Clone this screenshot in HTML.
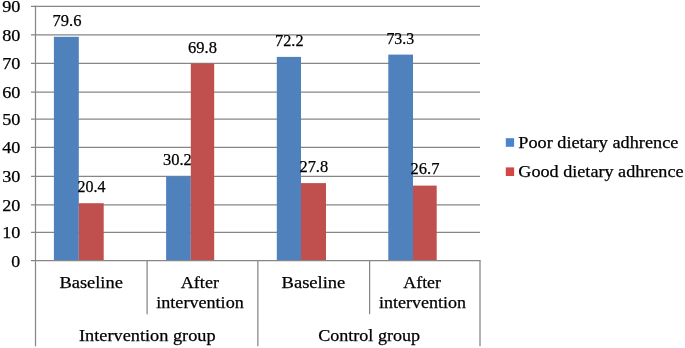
<!DOCTYPE html>
<html><head><meta charset="utf-8"><title>Chart</title>
<style>text{stroke:#000;stroke-width:0.25px}html,body{margin:0;padding:0;background:#fff;width:685px;height:348px;overflow:hidden;font-family:"Liberation Serif",serif}</style></head>
<body>
<svg width="685" height="348" viewBox="0 0 685 348" style="display:block;position:absolute;left:0;top:0;will-change:transform" font-family="'Liberation Serif', serif" fill="#000">
<rect width="685" height="348" fill="#fff"/>
<line x1="31.00" y1="232.30" x2="480.00" y2="232.30" stroke="#868686" stroke-width="1.25"/>
<line x1="31.00" y1="204.90" x2="480.00" y2="204.90" stroke="#868686" stroke-width="1.25"/>
<line x1="31.00" y1="176.30" x2="480.00" y2="176.30" stroke="#868686" stroke-width="1.25"/>
<line x1="31.00" y1="147.40" x2="480.00" y2="147.40" stroke="#868686" stroke-width="1.25"/>
<line x1="31.00" y1="119.20" x2="480.00" y2="119.20" stroke="#868686" stroke-width="1.25"/>
<line x1="31.00" y1="92.00" x2="480.00" y2="92.00" stroke="#868686" stroke-width="1.25"/>
<line x1="31.00" y1="63.40" x2="480.00" y2="63.40" stroke="#868686" stroke-width="1.25"/>
<line x1="31.00" y1="34.90" x2="480.00" y2="34.90" stroke="#868686" stroke-width="1.25"/>
<line x1="31.00" y1="6.30" x2="480.00" y2="6.30" stroke="#868686" stroke-width="1.25"/>
<rect x="53.90" y="36.80" width="24.90" height="223.80" fill="#4F81BD"/>
<rect x="166.10" y="176.30" width="24.70" height="84.30" fill="#4F81BD"/>
<rect x="276.80" y="56.90" width="24.20" height="203.70" fill="#4F81BD"/>
<rect x="388.30" y="54.60" width="24.70" height="206.00" fill="#4F81BD"/>
<text x="67.00" y="25.70" font-size="17" text-anchor="middle" textLength="28.9" lengthAdjust="spacingAndGlyphs">79.6</text>
<text x="177.40" y="165.20" font-size="17" text-anchor="middle" textLength="28.9" lengthAdjust="spacingAndGlyphs">30.2</text>
<text x="289.30" y="45.90" font-size="17" text-anchor="middle" textLength="28.5" lengthAdjust="spacingAndGlyphs">72.2</text>
<text x="400.30" y="43.60" font-size="17" text-anchor="middle" textLength="27.8" lengthAdjust="spacingAndGlyphs">73.3</text>
<rect x="78.80" y="203.20" width="24.90" height="57.40" fill="#C0504D"/>
<rect x="190.80" y="63.40" width="23.40" height="197.20" fill="#C0504D"/>
<rect x="301.00" y="183.10" width="25.00" height="77.50" fill="#C0504D"/>
<rect x="413.00" y="185.60" width="23.70" height="75.00" fill="#C0504D"/>
<text x="91.40" y="192.20" font-size="17" text-anchor="middle" textLength="28.0" lengthAdjust="spacingAndGlyphs">20.4</text>
<text x="202.50" y="53.10" font-size="17" text-anchor="middle" textLength="28.9" lengthAdjust="spacingAndGlyphs">69.8</text>
<text x="313.80" y="172.10" font-size="17" text-anchor="middle" textLength="28.7" lengthAdjust="spacingAndGlyphs">27.8</text>
<text x="425.00" y="174.40" font-size="17" text-anchor="middle" textLength="28.9" lengthAdjust="spacingAndGlyphs">26.7</text>
<line x1="35.50" y1="5.70" x2="35.50" y2="346.3" stroke="#868686" stroke-width="1.25"/>
<line x1="31.00" y1="260.60" x2="480.60" y2="260.60" stroke="#868686" stroke-width="1.4"/>
<line x1="147.10" y1="260.60" x2="147.10" y2="314.2" stroke="#868686" stroke-width="1.25"/>
<line x1="369.60" y1="260.60" x2="369.60" y2="314.2" stroke="#868686" stroke-width="1.25"/>
<line x1="257.85" y1="260.60" x2="257.85" y2="346.3" stroke="#868686" stroke-width="1.25"/>
<line x1="480.00" y1="260.60" x2="480.00" y2="346.3" stroke="#868686" stroke-width="1.25"/>
<text x="15.70" y="266.60" font-size="17" text-anchor="middle" textLength="8.90" lengthAdjust="spacingAndGlyphs">0</text>
<text x="11.35" y="238.30" font-size="17" text-anchor="middle" textLength="18.20" lengthAdjust="spacingAndGlyphs">10</text>
<text x="11.35" y="210.90" font-size="17" text-anchor="middle" textLength="18.20" lengthAdjust="spacingAndGlyphs">20</text>
<text x="11.35" y="182.30" font-size="17" text-anchor="middle" textLength="18.20" lengthAdjust="spacingAndGlyphs">30</text>
<text x="11.35" y="153.40" font-size="17" text-anchor="middle" textLength="18.20" lengthAdjust="spacingAndGlyphs">40</text>
<text x="11.35" y="125.20" font-size="17" text-anchor="middle" textLength="18.20" lengthAdjust="spacingAndGlyphs">50</text>
<text x="11.35" y="98.00" font-size="17" text-anchor="middle" textLength="18.20" lengthAdjust="spacingAndGlyphs">60</text>
<text x="11.35" y="69.40" font-size="17" text-anchor="middle" textLength="18.20" lengthAdjust="spacingAndGlyphs">70</text>
<text x="11.35" y="40.90" font-size="17" text-anchor="middle" textLength="18.20" lengthAdjust="spacingAndGlyphs">80</text>
<text x="11.35" y="12.30" font-size="17" text-anchor="middle" textLength="18.20" lengthAdjust="spacingAndGlyphs">90</text>
<text x="91.15" y="288.30" font-size="17" text-anchor="middle" textLength="63.40" lengthAdjust="spacingAndGlyphs">Baseline</text>
<text x="199.85" y="288.30" font-size="17" text-anchor="middle" textLength="38.20" lengthAdjust="spacingAndGlyphs">After</text>
<text x="200.00" y="308.40" font-size="17" text-anchor="middle" textLength="87.50" lengthAdjust="spacingAndGlyphs">intervention</text>
<text x="313.45" y="288.30" font-size="17" text-anchor="middle" textLength="63.80" lengthAdjust="spacingAndGlyphs">Baseline</text>
<text x="422.15" y="288.30" font-size="17" text-anchor="middle" textLength="37.60" lengthAdjust="spacingAndGlyphs">After</text>
<text x="422.45" y="308.40" font-size="17" text-anchor="middle" textLength="87.00" lengthAdjust="spacingAndGlyphs">intervention</text>
<text x="147.30" y="340.70" font-size="17" text-anchor="middle" textLength="136.70" lengthAdjust="spacingAndGlyphs">Intervention group</text>
<text x="369.10" y="340.70" font-size="17" text-anchor="middle" textLength="101.90" lengthAdjust="spacingAndGlyphs">Control group</text>
<rect x="505.8" y="138.2" width="8.3" height="8.6" fill="#4A84CE"/>
<rect x="505.8" y="167.4" width="8.3" height="8.6" fill="#D24646"/>
<text x="598.35" y="148.20" font-size="17" text-anchor="middle" textLength="160.00" lengthAdjust="spacingAndGlyphs">Poor dietary adhrence</text>
<text x="600.95" y="176.90" font-size="17" text-anchor="middle" textLength="165.20" lengthAdjust="spacingAndGlyphs">Good dietary adhrence</text>
</svg>
</body></html>
